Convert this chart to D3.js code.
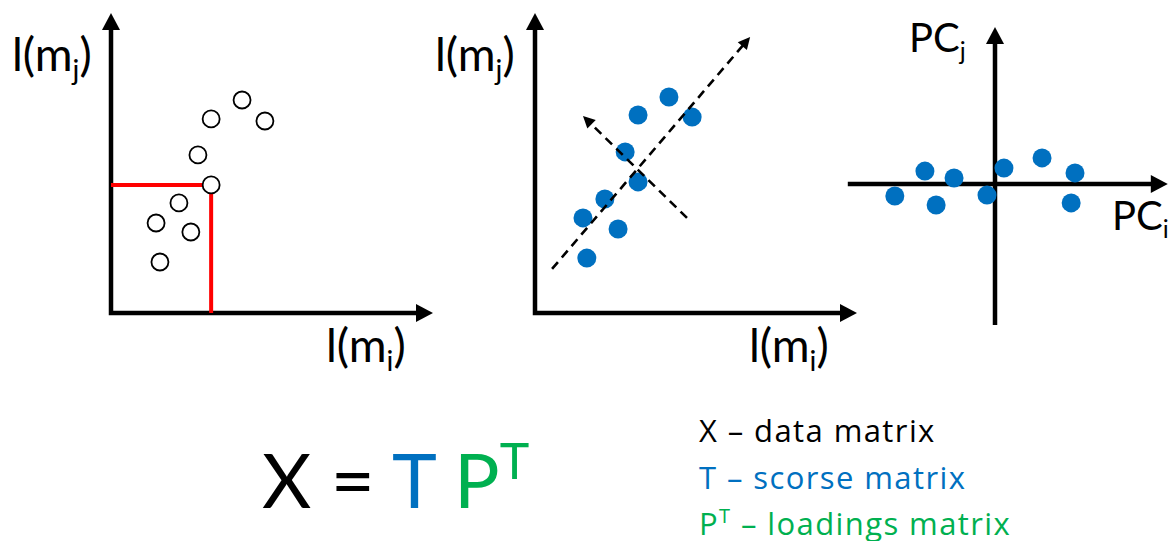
<!DOCTYPE html>
<html>
<head>
<meta charset="utf-8">
<script src="https://cdn.jsdelivr.net/npm/d3@7"></script>
<style>
  body { margin: 0; background: #fff; }
  svg { display: block; font-family: Lato, "Open Sans", sans-serif; }
</style>
</head>
<body>
<div id="chart"></div>
<script>
// panel 1: raw intensities l(mi), l(mj)
var rawX = [4.07, 3.11, 4.78, 2.70, 3.11, 2.11, 1.40, 2.48, 1.52];
var rawY = [7.10, 6.47, 6.40, 5.27, 4.27, 3.67, 3.00, 2.70, 1.70];
var picked = 4; // the sample whose coordinates are marked in red

// panel 2: same samples with principal directions
var scoreX = [4.16, 3.20, 4.88, 2.80, 3.20, 2.17, 1.49, 2.58, 1.61];
var scoreY = [7.20, 6.60, 6.53, 5.37, 4.37, 3.80, 3.17, 2.80, 1.83];
var pc1Line = [[0.53, 1.47], [6.68, 9.20]];
var pc2Line = [[4.72, 3.17], [1.49, 6.57]];

// panel 3: scores in PC space
var pcX = [1.47, 0.28, -2.19, -1.28, 2.50, -3.13, -0.25, -1.84, 2.38];
var pcY = [0.87, 0.53, 0.43, 0.20, 0.37, -0.40, -0.37, -0.70, -0.63];
var pcXExtent = [-4.6, 5.4];
var pcYExtent = [-4.7, 5.23];

var legendText = ["X \u2013 data matrix", "T \u2013 scorse matrix", " \u2013 loadings matrix"];

var blue = "#0070C0", green = "#00B050", red = "#FF0000";

var width = 1168, height = 541;
var svg = d3.select("#chart").append("svg")
    .attr("width", width)
    .attr("height", height);

// draws a line ending in a filled triangular arrowhead
function arrow(g, x1, y1, x2, y2, len, half, sw, dash) {
  var dx = x2 - x1, dy = y2 - y1, d = Math.sqrt(dx*dx + dy*dy);
  var ux = dx / d, uy = dy / d;
  var bx = x2 - ux*len, by = y2 - uy*len;
  g.append("line")
      .attr("x1", x1).attr("y1", y1)
      .attr("x2", bx + ux*1).attr("y2", by + uy*1)
      .attr("stroke", "#000")
      .attr("stroke-width", sw)
      .attr("stroke-dasharray", dash || null);
  g.append("path")
      .attr("d", "M" + x2 + "," + y2 +
                 "L" + (bx - uy*half) + "," + (by + ux*half) +
                 "L" + (bx + uy*half) + "," + (by - ux*half) + "Z")
      .attr("fill", "#000");
}

function cornerAxes(g, x, y) {
  var x0 = x(0), y0 = y(0), xe = x(10), ye = y(10);
  g.append("path")
      .attr("d", "M" + x0 + "," + (ye + 15) + "L" + x0 + "," + y0 + "L" + (xe - 15) + "," + y0)
      .attr("fill", "none")
      .attr("stroke", "#000")
      .attr("stroke-width", 4.5)
      .attr("stroke-linejoin", "miter");
  arrow(g, x0, ye + 16, x0, ye, 17, 9, 4.5);
  arrow(g, xe - 16, y0, xe, y0, 17, 9, 4.5);
}

function subLabel(g, x, y, pre, sub, post, size) {
  var t = g.append("text")
      .attr("x", x).attr("y", y)
      .attr("font-size", size)
      .attr("fill", "#000");
  t.append("tspan").text(pre);
  t.append("tspan").attr("font-size", size * 0.62).attr("dy", size * 0.2).text(sub);
  if (post) t.append("tspan").attr("dy", -size * 0.2).text(post);
}

// ---------- panel 1 ----------
var x1 = d3.scaleLinear().domain([0, 10]).range([111, 433]);
var y1 = d3.scaleLinear().domain([0, 10]).range([313, 13]);
var p1 = svg.append("g");
cornerAxes(p1, x1, y1);

p1.append("path")
    .attr("d", "M" + x1(0) + "," + y1(rawY[picked]) +
               "L" + x1(rawX[picked]) + "," + y1(rawY[picked]) +
               "L" + x1(rawX[picked]) + "," + y1(0))
    .attr("fill", "none")
    .attr("stroke", red)
    .attr("stroke-width", 4);

p1.selectAll("circle.raw")
    .data(rawX)
  .enter().append("circle")
    .attr("class", "raw")
    .attr("cx", function(d) { return x1(d); })
    .attr("cy", function(d, i) { return y1(rawY[i]); })
    .attr("r", 8.5)
    .attr("fill", "#fff")
    .attr("stroke", "#000")
    .attr("stroke-width", 1.8);

subLabel(p1, 12, 71, "l(m", "j", ")", 46);
subLabel(p1, 326, 362, "l(m", "i", ")", 46);

// ---------- panel 2 ----------
var x2 = d3.scaleLinear().domain([0, 10]).range([535, 857]);
var y2 = d3.scaleLinear().domain([0, 10]).range([313, 13]);
var p2 = svg.append("g");
cornerAxes(p2, x2, y2);

p2.selectAll("circle.score")
    .data(scoreX)
  .enter().append("circle")
    .attr("class", "score")
    .attr("cx", function(d) { return x2(d); })
    .attr("cy", function(d, i) { return y2(scoreY[i]); })
    .attr("r", 9.5)
    .attr("fill", blue);

[pc1Line, pc2Line].forEach(function(l) {
  arrow(p2, x2(l[0][0]), y2(l[0][1]), x2(l[1][0]), y2(l[1][1]), 12, 6, 2.6, "9,6");
});

subLabel(p2, 435, 71, "l(m", "j", ")", 46);
subLabel(p2, 749, 362, "l(m", "i", ")", 46);

// ---------- panel 3 ----------
var x3 = d3.scaleLinear().domain([-5, 5]).range([835, 1155]);
var y3 = d3.scaleLinear().domain([-5, 5]).range([334, 34]);
var p3 = svg.append("g");
arrow(p3, x3(pcXExtent[0]), y3(0), x3(pcXExtent[1]), y3(0), 17, 9, 4.5);
arrow(p3, x3(0), y3(pcYExtent[0]), x3(0), y3(pcYExtent[1]), 17, 9, 4.5);

p3.selectAll("circle.pc")
    .data(pcX)
  .enter().append("circle")
    .attr("class", "pc")
    .attr("cx", function(d) { return x3(d); })
    .attr("cy", function(d, i) { return y3(pcY[i]); })
    .attr("r", 9.5)
    .attr("fill", blue);

subLabel(p3, 909, 52, "PC", "j", null, 40);
subLabel(p3, 1112, 230, "PC", "i", null, 40);

// ---------- formula ----------
var f = svg.append("text")
    .attr("x", 262).attr("y", 508)
    .attr("font-size", 76);
f.append("tspan").attr("fill", "#000").text("X = ");
f.append("tspan").attr("fill", blue).text("T ");
f.append("tspan").attr("fill", green).text("P");
f.append("tspan").attr("fill", green).attr("font-size", 50).attr("dy", -29).text("T");

// ---------- legend ----------
var legColors = ["#000", blue, green];
legendText.forEach(function(s, i) {
  var t = svg.append("text")
      .attr("x", 699).attr("y", 442 + i * 46.5)
      .attr("font-family", "'Open Sans', sans-serif")
      .attr("font-size", 31)
      .attr("letter-spacing", 1.4)
      .attr("fill", legColors[i]);
  if (i == 2) {
    t.append("tspan").text("P");
    t.append("tspan").attr("font-size", 20).attr("dy", -12).text("T");
    t.append("tspan").attr("dy", 12).text(s);
  } else {
    t.text(s);
  }
});
</script>
</body>
</html>
